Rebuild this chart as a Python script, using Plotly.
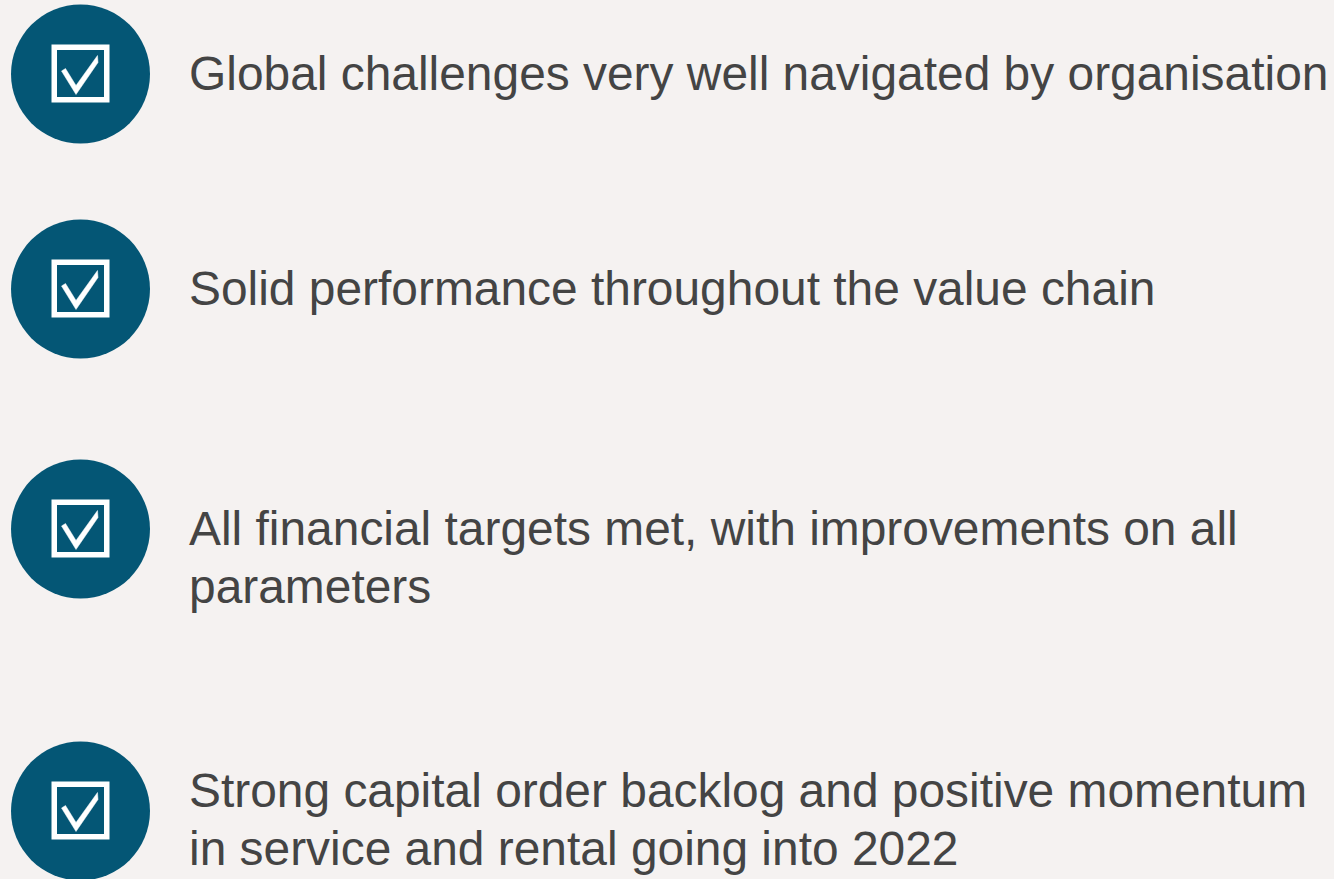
import plotly.graph_objects as go

statements = [
    ["Global challenges very well navigated by organisation"],
    ["Solid performance throughout the value chain"],
    ["All financial targets met, with improvements on all", "parameters"],
    ["Strong capital order backlog and positive momentum", "in service and rental going into 2022"],
]
rows = [74, 289, 529, 811]
first_line = [78, 293, 533, 795]

W, H = 1334, 879
BG, BLUE, INK = "#f5f2f1", "#045675", "#444444"
CX, TX, LEAD = 80.5, 189, 58
TICK_DX = [-19, -15, -4.5, 17, 17.5, -4.5, -19]
TICK_DY = [-3, -5.5, 11.5, -18.5, -11.5, 20.5, -3]

fig = go.Figure()
for row, first, lines in zip(rows, first_line, statements):
    fig.add_trace(go.Scatter(x=[CX], y=[row], mode="markers",
        marker=dict(symbol="circle", size=139, color=BLUE, line_width=0)))
    fig.add_trace(go.Scatter(x=[CX], y=[row - 0.5], mode="markers",
        marker=dict(symbol="square-open", size=52.5, color="white", line=dict(color="white", width=5.5))))
    fig.add_trace(go.Scatter(x=[CX + d for d in TICK_DX], y=[row + d for d in TICK_DY], mode="lines",
        fill="toself", fillcolor="white", line=dict(color="white", width=0.5)))
    fig.add_trace(go.Scatter(x=[TX] * len(lines), y=[first + i * LEAD for i in range(len(lines))],
        mode="text", text=lines, textposition="middle right", cliponaxis=False,
        textfont=dict(family="Liberation Sans", size=47.9, color=INK)))

fig.update_layout(width=W, height=H, margin=dict(l=0, r=0, t=0, b=0), showlegend=False,
    paper_bgcolor=BG, plot_bgcolor=BG,
    xaxis=dict(range=[0, W], visible=False, fixedrange=True),
    yaxis=dict(range=[H, 0], visible=False, fixedrange=True))
fig.write_html("out.html", config=dict(displayModeBar=False),
    post_script="document.body.style.margin='0';document.body.style.overflow='hidden';document.body.style.background='%s';" % BG)
